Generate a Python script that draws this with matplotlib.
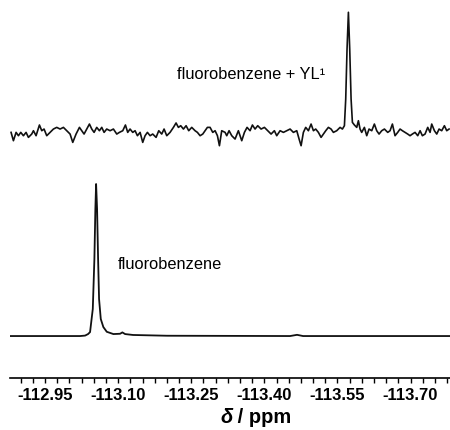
import numpy as np
import matplotlib
matplotlib.use("Agg")
import matplotlib.pyplot as plt

# 19F NMR, chemical shift (ppm) and normalised intensity

# fluorobenzene + YL1 (noisy trace, peak normalised to 1)
shift_top = [-112.8802, -112.8850, -112.8905, -112.8953, -112.9001, -112.9055, -112.9110,
             -112.9158, -112.9226, -112.9261, -112.9315, -112.9384, -112.9432, -112.9479,
             -112.9534, -112.9603, -112.9671, -112.9739, -112.9808, -112.9876, -112.9945,
             -113.0013, -113.0068, -113.0136, -113.0205, -113.0252, -113.0300, -113.0355,
             -113.0410, -113.0458, -113.0506, -113.0560, -113.0615, -113.0663, -113.0711,
             -113.0765, -113.0834, -113.0902, -113.0971, -113.1025, -113.1094, -113.1149,
             -113.1196, -113.1244, -113.1299, -113.1347, -113.1395, -113.1450, -113.1504,
             -113.1552, -113.1600, -113.1655, -113.1709, -113.1778, -113.1833, -113.1894,
             -113.1942, -113.1997, -113.2065, -113.2134, -113.2188, -113.2236, -113.2284,
             -113.2339, -113.2394, -113.2448, -113.2510, -113.2578, -113.2626, -113.2681,
             -113.2736, -113.2783, -113.2831, -113.2886, -113.2941, -113.2989, -113.3037,
             -113.3078, -113.3125, -113.3194, -113.3228, -113.3276, -113.3331, -113.3399,
             -113.3467, -113.3536, -113.3591, -113.3645, -113.3707, -113.3755, -113.3809,
             -113.3864, -113.3933, -113.4001, -113.4069, -113.4138, -113.4206, -113.4254,
             -113.4323, -113.4391, -113.4459, -113.4528, -113.4596, -113.4665, -113.4713,
             -113.4754, -113.4801, -113.4849, -113.4904, -113.4959, -113.5007, -113.5054,
             -113.5109, -113.5164, -113.5212, -113.5260, -113.5314, -113.5369, -113.5417,
             -113.5485, -113.5554, -113.5602, -113.5643, -113.5670, -113.5697, -113.5725,
             -113.5752, -113.5780, -113.5807, -113.5848, -113.5896, -113.5930, -113.5964,
             -113.5998, -113.6053, -113.6101, -113.6149, -113.6204, -113.6258, -113.6306,
             -113.6354, -113.6409, -113.6464, -113.6532, -113.6580, -113.6628, -113.6682,
             -113.6737, -113.6785, -113.6833, -113.6888, -113.6942, -113.6990, -113.7038,
             -113.7093, -113.7148, -113.7196, -113.7243, -113.7298, -113.7353, -113.7401,
             -113.7435, -113.7490, -113.7538, -113.7586, -113.7640, -113.7695, -113.7743,
             -113.7791]
int_top = [-0.003, -0.073, -0.003, -0.031, -0.003, -0.031, -0.003,
           -0.045, -0.017, 0.011, -0.031, 0.059, 0.011, 0.025,
           -0.031, -0.003, 0.025, 0.039, 0.025, 0.039, 0.011,
           -0.017, -0.087, -0.017, 0.039, 0.011, -0.017, 0.025,
           0.067, 0.025, -0.003, 0.039, 0.011, 0.039, -0.003,
           0.025, 0.011, 0.025, -0.017, -0.003, 0.011, 0.059,
           -0.003, 0.025, -0.003, 0.011, -0.031, -0.003, -0.087,
           -0.031, -0.003, -0.031, -0.017, -0.045, 0.011, -0.017,
           0.025, -0.031, -0.003, 0.039, 0.076, 0.039, 0.053,
           0.025, 0.053, 0.011, 0.039, 0.011, -0.003, -0.031,
           -0.017, 0.011, 0.039, 0.039, -0.003, 0.011, -0.031,
           -0.115, 0.011, -0.003, -0.031, 0.011, -0.031, -0.059,
           0.011, -0.073, -0.003, 0.039, 0.011, 0.059, 0.025,
           0.053, 0.025, 0.039, 0.011, -0.017, 0.011, -0.031,
           0.011, -0.003, 0.011, 0.025, -0.003, 0.011, -0.059,
           -0.115, -0.003, 0.039, 0.011, 0.067, 0.011, 0.025,
           -0.003, -0.045, -0.017, 0.011, 0.039, 0.025, -0.003,
           0.011, 0.039, 0.025, 0.053, 0.277, 0.697, 1.006,
           0.697, 0.277, 0.081, 0.059, 0.039, 0.095, 0.025,
           -0.003, 0.039, -0.031, 0.025, 0.011, 0.067, 0.011,
           -0.017, 0.011, 0.025, -0.003, 0.011, 0.067, -0.031,
           -0.003, 0.025, 0.011, -0.003, -0.017, -0.031, -0.017,
           -0.003, -0.031, 0.011, -0.031, -0.017, 0.039, -0.003,
           0.067, 0.011, -0.017, 0.025, 0.011, 0.053, 0.011,
           0.025]

# fluorobenzene alone
shift_bot = [-112.878, -113.0218, -113.0321, -113.0382, -113.0423, -113.0479, -113.0512,
             -113.0532, -113.0547, -113.0567, -113.0588, -113.0608, -113.0643, -113.0696,
             -113.0766, -113.0902, -113.1039, -113.1086, -113.1142, -113.1306, -113.2004,
             -113.4528, -113.4671, -113.4794, -113.781]
int_bot = [0.0, 0.0, 0.003, 0.013, 0.026, 0.178, 0.507,
           0.836, 1.0, 0.836, 0.507, 0.243, 0.112, 0.059,
           0.028, 0.013, 0.015, 0.024, 0.013, 0.007, 0.002,
           0.0, 0.008, 0.0, 0.0]

major_ticks = [-112.95, -113.10, -113.25, -113.40, -113.55, -113.70]

top_offset = 1.342
top_scale = 0.783

plt.rcParams['font.family'] = ['Liberation Sans', 'DejaVu Sans']

fig = plt.figure(figsize=(4.5, 4.31), dpi=100)
ax = fig.add_axes([10 / 450, 52 / 431, 440 / 450, 379 / 431])

ax.plot(shift_bot, int_bot, color="#111111", lw=1.3)
ax.plot(shift_top, top_offset + top_scale * np.array(int_top), color="#111111", lw=1.2)

ax.set_xlim(-112.878, -113.781)
ax.set_ylim(-0.276, 2.217)

ax.text(-113.3727, 1.724, "fluorobenzene + YL¹", fontsize=11.8, ha="center", va="center")
ax.text(-113.2065, 0.48, "fluorobenzene", fontsize=11.8, ha="center", va="center")

for side in ["left", "right", "top"]:
    ax.spines[side].set_visible(False)
ax.spines["bottom"].set_linewidth(1.2)
ax.set_yticks([])
ax.set_xticks(major_ticks)
ax.set_xticklabels(["%.2f" % t for t in major_ticks], fontsize=12, fontweight="bold")
ax.xaxis.set_minor_locator(matplotlib.ticker.MultipleLocator(0.025))
ax.tick_params(axis="x", which="both", direction="out", length=3.5, width=1.0, pad=3)

# axis label: italic delta followed by " / ppm"
d = fig.text(220 / 450, 8 / 431, "δ", fontsize=14.5, fontweight="bold", style="italic", va="baseline")
ax.annotate(" / ppm", xy=(1, 0), xycoords=d, va="bottom", fontsize=14.5, fontweight="bold")

fig.savefig("out.png", dpi=100)
